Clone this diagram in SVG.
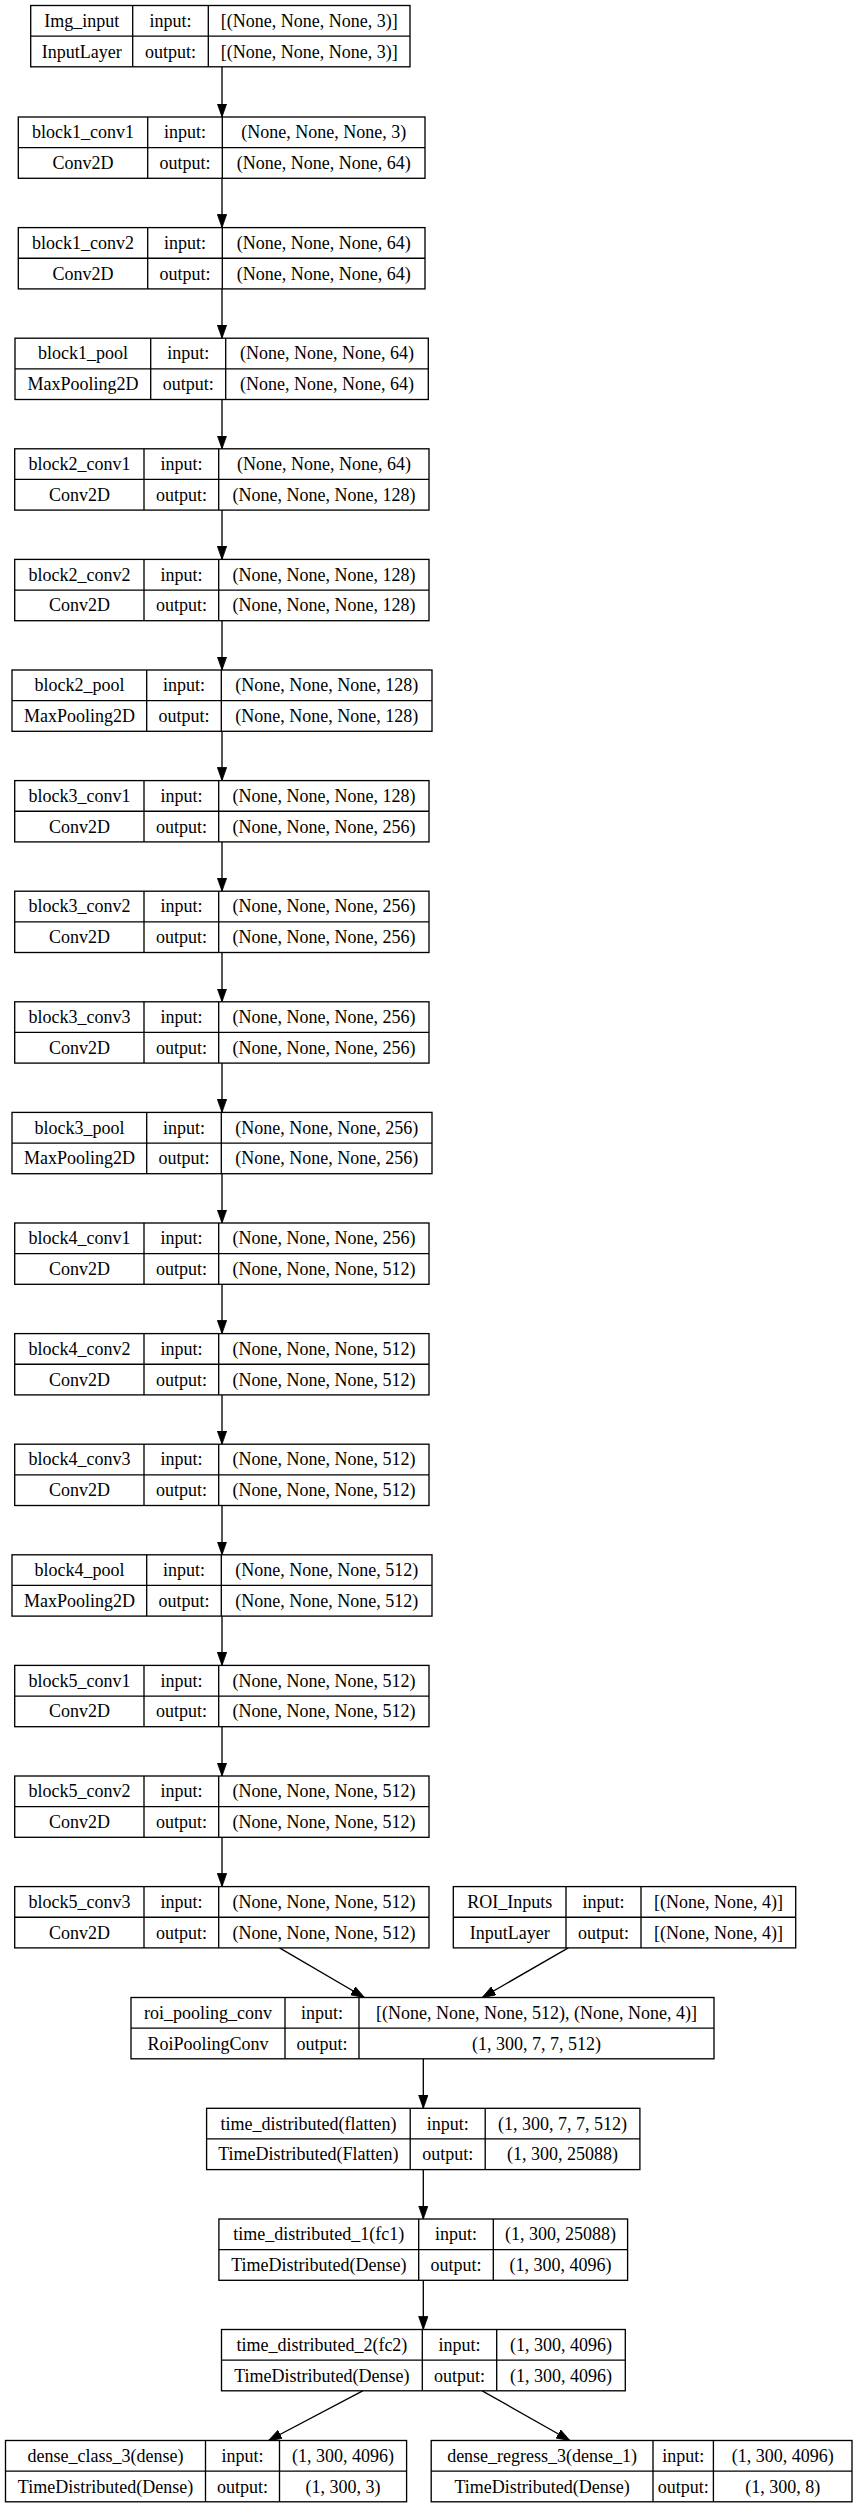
<svg xmlns="http://www.w3.org/2000/svg" width="859" height="2508" viewBox="0 0 859 2508">
<defs>
<style>
.box{fill:#fff;stroke:#000;stroke-width:1.33}
.grid{fill:none;stroke:#000;stroke-width:1.33}
text{font-family:"Liberation Serif","Times New Roman",serif;font-size:18px;fill:#000;text-anchor:middle}
.edge{fill:none;stroke:#000;stroke-width:1.33;marker-end:url(#ah)}
</style>
<marker id="ah" markerUnits="userSpaceOnUse" markerWidth="14" markerHeight="10" refX="13.3" refY="4.7" orient="auto" viewBox="0 0 14 10">
<path d="M0,0 L13.3,4.7 L0,9.4 z" fill="#000" stroke="#000" stroke-width="0.8"/>
</marker>
</defs>
<rect width="859" height="2508" fill="#fff"/>

<g id="connectors">
<line class="edge" x1="222" y1="66.8" x2="222" y2="117"/>
<line class="edge" x1="222" y1="178.3" x2="222" y2="227.6"/>
<line class="edge" x1="222" y1="288.9" x2="222" y2="338.2"/>
<line class="edge" x1="222" y1="399.5" x2="222" y2="448.8"/>
<line class="edge" x1="222" y1="510.1" x2="222" y2="559.4"/>
<line class="edge" x1="222" y1="620.7" x2="222" y2="670"/>
<line class="edge" x1="222" y1="731.3" x2="222" y2="780.6"/>
<line class="edge" x1="222" y1="841.9" x2="222" y2="891.2"/>
<line class="edge" x1="222" y1="952.5" x2="222" y2="1001.8"/>
<line class="edge" x1="222" y1="1063.1" x2="222" y2="1112.4"/>
<line class="edge" x1="222" y1="1173.7" x2="222" y2="1223"/>
<line class="edge" x1="222" y1="1284.3" x2="222" y2="1333.6"/>
<line class="edge" x1="222" y1="1394.9" x2="222" y2="1444.2"/>
<line class="edge" x1="222" y1="1505.5" x2="222" y2="1554.8"/>
<line class="edge" x1="222" y1="1616.1" x2="222" y2="1665.4"/>
<line class="edge" x1="222" y1="1726.7" x2="222" y2="1776"/>
<line class="edge" x1="222" y1="1837.3" x2="222" y2="1886.6"/>
<line class="edge" x1="279.5" y1="1947.9" x2="364.4" y2="1997.5"/>
<line class="edge" x1="568.3" y1="1947.9" x2="482.2" y2="1997.5"/>
<line class="edge" x1="423.3" y1="2058.8" x2="423.3" y2="2108.3"/>
<line class="edge" x1="423.3" y1="2169.6" x2="423.3" y2="2219"/>
<line class="edge" x1="423.3" y1="2280.3" x2="423.3" y2="2329.5"/>
<line class="edge" x1="362.7" y1="2390.8" x2="268.5" y2="2440.5"/>
<line class="edge" x1="482.2" y1="2390.8" x2="569.9" y2="2440.5"/>
</g>

<g id="Img_input" transform="translate(0,5.5)">
<rect class="box" x="30.7" y="0" width="379.3" height="61.3"/>
<path class="grid" d="M30.7,30.65H410M132.7,0V61.3M208.3,0V61.3"/>
<text x="81.7" y="21.3">Img_input</text><text x="170.5" y="21.3">input:</text><text x="309.2" y="21.3">[(None, None, None, 3)]</text>
<text x="81.7" y="52">InputLayer</text><text x="170.5" y="52">output:</text><text x="309.2" y="52">[(None, None, None, 3)]</text>
</g>

<g id="block1_conv1" transform="translate(0,117)">
<rect class="box" x="18.3" y="0" width="406.7" height="61.3"/>
<path class="grid" d="M18.3,30.65H425M147.7,0V61.3M222.3,0V61.3"/>
<text x="83" y="21.3">block1_conv1</text><text x="185" y="21.3">input:</text><text x="323.7" y="21.3">(None, None, None, 3)</text>
<text x="83" y="52">Conv2D</text><text x="185" y="52">output:</text><text x="323.7" y="52">(None, None, None, 64)</text>
</g>

<g id="block1_conv2" transform="translate(0,227.6)">
<rect class="box" x="18.3" y="0" width="406.7" height="61.3"/>
<path class="grid" d="M18.3,30.65H425M147.7,0V61.3M222.3,0V61.3"/>
<text x="83" y="21.3">block1_conv2</text><text x="185" y="21.3">input:</text><text x="323.7" y="21.3">(None, None, None, 64)</text>
<text x="83" y="52">Conv2D</text><text x="185" y="52">output:</text><text x="323.7" y="52">(None, None, None, 64)</text>
</g>

<g id="block1_pool" transform="translate(0,338.2)">
<rect class="box" x="15" y="0" width="413.3" height="61.3"/>
<path class="grid" d="M15,30.65H428.3M150.7,0V61.3M225.7,0V61.3"/>
<text x="82.9" y="21.3">block1_pool</text><text x="188.2" y="21.3">input:</text><text x="327" y="21.3">(None, None, None, 64)</text>
<text x="82.9" y="52">MaxPooling2D</text><text x="188.2" y="52">output:</text><text x="327" y="52">(None, None, None, 64)</text>
</g>

<g id="block2_conv1" transform="translate(0,448.8)">
<rect class="box" x="14.7" y="0" width="414.3" height="61.3"/>
<path class="grid" d="M14.7,30.65H429M144,0V61.3M218.7,0V61.3"/>
<text x="79.4" y="21.3">block2_conv1</text><text x="181.4" y="21.3">input:</text><text x="323.9" y="21.3">(None, None, None, 64)</text>
<text x="79.4" y="52">Conv2D</text><text x="181.4" y="52">output:</text><text x="323.9" y="52">(None, None, None, 128)</text>
</g>

<g id="block2_conv2" transform="translate(0,559.4)">
<rect class="box" x="14.7" y="0" width="414.3" height="61.3"/>
<path class="grid" d="M14.7,30.65H429M144,0V61.3M218.7,0V61.3"/>
<text x="79.4" y="21.3">block2_conv2</text><text x="181.4" y="21.3">input:</text><text x="323.9" y="21.3">(None, None, None, 128)</text>
<text x="79.4" y="52">Conv2D</text><text x="181.4" y="52">output:</text><text x="323.9" y="52">(None, None, None, 128)</text>
</g>

<g id="block2_pool" transform="translate(0,670)">
<rect class="box" x="12" y="0" width="420" height="61.3"/>
<path class="grid" d="M12,30.65H432M146.7,0V61.3M221.3,0V61.3"/>
<text x="79.4" y="21.3">block2_pool</text><text x="184" y="21.3">input:</text><text x="326.7" y="21.3">(None, None, None, 128)</text>
<text x="79.4" y="52">MaxPooling2D</text><text x="184" y="52">output:</text><text x="326.7" y="52">(None, None, None, 128)</text>
</g>

<g id="block3_conv1" transform="translate(0,780.6)">
<rect class="box" x="14.7" y="0" width="414.3" height="61.3"/>
<path class="grid" d="M14.7,30.65H429M144,0V61.3M218.7,0V61.3"/>
<text x="79.4" y="21.3">block3_conv1</text><text x="181.4" y="21.3">input:</text><text x="323.9" y="21.3">(None, None, None, 128)</text>
<text x="79.4" y="52">Conv2D</text><text x="181.4" y="52">output:</text><text x="323.9" y="52">(None, None, None, 256)</text>
</g>

<g id="block3_conv2" transform="translate(0,891.2)">
<rect class="box" x="14.7" y="0" width="414.3" height="61.3"/>
<path class="grid" d="M14.7,30.65H429M144,0V61.3M218.7,0V61.3"/>
<text x="79.4" y="21.3">block3_conv2</text><text x="181.4" y="21.3">input:</text><text x="323.9" y="21.3">(None, None, None, 256)</text>
<text x="79.4" y="52">Conv2D</text><text x="181.4" y="52">output:</text><text x="323.9" y="52">(None, None, None, 256)</text>
</g>

<g id="block3_conv3" transform="translate(0,1001.8)">
<rect class="box" x="14.7" y="0" width="414.3" height="61.3"/>
<path class="grid" d="M14.7,30.65H429M144,0V61.3M218.7,0V61.3"/>
<text x="79.4" y="21.3">block3_conv3</text><text x="181.4" y="21.3">input:</text><text x="323.9" y="21.3">(None, None, None, 256)</text>
<text x="79.4" y="52">Conv2D</text><text x="181.4" y="52">output:</text><text x="323.9" y="52">(None, None, None, 256)</text>
</g>

<g id="block3_pool" transform="translate(0,1112.4)">
<rect class="box" x="12" y="0" width="420" height="61.3"/>
<path class="grid" d="M12,30.65H432M146.7,0V61.3M221.3,0V61.3"/>
<text x="79.4" y="21.3">block3_pool</text><text x="184" y="21.3">input:</text><text x="326.7" y="21.3">(None, None, None, 256)</text>
<text x="79.4" y="52">MaxPooling2D</text><text x="184" y="52">output:</text><text x="326.7" y="52">(None, None, None, 256)</text>
</g>

<g id="block4_conv1" transform="translate(0,1223)">
<rect class="box" x="14.7" y="0" width="414.3" height="61.3"/>
<path class="grid" d="M14.7,30.65H429M144,0V61.3M218.7,0V61.3"/>
<text x="79.4" y="21.3">block4_conv1</text><text x="181.4" y="21.3">input:</text><text x="323.9" y="21.3">(None, None, None, 256)</text>
<text x="79.4" y="52">Conv2D</text><text x="181.4" y="52">output:</text><text x="323.9" y="52">(None, None, None, 512)</text>
</g>

<g id="block4_conv2" transform="translate(0,1333.6)">
<rect class="box" x="14.7" y="0" width="414.3" height="61.3"/>
<path class="grid" d="M14.7,30.65H429M144,0V61.3M218.7,0V61.3"/>
<text x="79.4" y="21.3">block4_conv2</text><text x="181.4" y="21.3">input:</text><text x="323.9" y="21.3">(None, None, None, 512)</text>
<text x="79.4" y="52">Conv2D</text><text x="181.4" y="52">output:</text><text x="323.9" y="52">(None, None, None, 512)</text>
</g>

<g id="block4_conv3" transform="translate(0,1444.2)">
<rect class="box" x="14.7" y="0" width="414.3" height="61.3"/>
<path class="grid" d="M14.7,30.65H429M144,0V61.3M218.7,0V61.3"/>
<text x="79.4" y="21.3">block4_conv3</text><text x="181.4" y="21.3">input:</text><text x="323.9" y="21.3">(None, None, None, 512)</text>
<text x="79.4" y="52">Conv2D</text><text x="181.4" y="52">output:</text><text x="323.9" y="52">(None, None, None, 512)</text>
</g>

<g id="block4_pool" transform="translate(0,1554.8)">
<rect class="box" x="12" y="0" width="420" height="61.3"/>
<path class="grid" d="M12,30.65H432M146.7,0V61.3M221.3,0V61.3"/>
<text x="79.4" y="21.3">block4_pool</text><text x="184" y="21.3">input:</text><text x="326.7" y="21.3">(None, None, None, 512)</text>
<text x="79.4" y="52">MaxPooling2D</text><text x="184" y="52">output:</text><text x="326.7" y="52">(None, None, None, 512)</text>
</g>

<g id="block5_conv1" transform="translate(0,1665.4)">
<rect class="box" x="14.7" y="0" width="414.3" height="61.3"/>
<path class="grid" d="M14.7,30.65H429M144,0V61.3M218.7,0V61.3"/>
<text x="79.4" y="21.3">block5_conv1</text><text x="181.4" y="21.3">input:</text><text x="323.9" y="21.3">(None, None, None, 512)</text>
<text x="79.4" y="52">Conv2D</text><text x="181.4" y="52">output:</text><text x="323.9" y="52">(None, None, None, 512)</text>
</g>

<g id="block5_conv2" transform="translate(0,1776)">
<rect class="box" x="14.7" y="0" width="414.3" height="61.3"/>
<path class="grid" d="M14.7,30.65H429M144,0V61.3M218.7,0V61.3"/>
<text x="79.4" y="21.3">block5_conv2</text><text x="181.4" y="21.3">input:</text><text x="323.9" y="21.3">(None, None, None, 512)</text>
<text x="79.4" y="52">Conv2D</text><text x="181.4" y="52">output:</text><text x="323.9" y="52">(None, None, None, 512)</text>
</g>

<g id="block5_conv3" transform="translate(0,1886.6)">
<rect class="box" x="14.7" y="0" width="414.3" height="61.3"/>
<path class="grid" d="M14.7,30.65H429M144,0V61.3M218.7,0V61.3"/>
<text x="79.4" y="21.3">block5_conv3</text><text x="181.4" y="21.3">input:</text><text x="323.9" y="21.3">(None, None, None, 512)</text>
<text x="79.4" y="52">Conv2D</text><text x="181.4" y="52">output:</text><text x="323.9" y="52">(None, None, None, 512)</text>
</g>

<g id="ROI_Inputs" transform="translate(0,1886.6)">
<rect class="box" x="453.3" y="0" width="342.4" height="61.3"/>
<path class="grid" d="M453.3,30.65H795.7M566,0V61.3M641,0V61.3"/>
<text x="509.7" y="21.3">ROI_Inputs</text><text x="603.5" y="21.3">input:</text><text x="718.4" y="21.3">[(None, None, 4)]</text>
<text x="509.7" y="52">InputLayer</text><text x="603.5" y="52">output:</text><text x="718.4" y="52">[(None, None, 4)]</text>
</g>

<g id="roi_pooling_conv" transform="translate(0,1997.5)">
<rect class="box" x="131" y="0" width="583" height="61.3"/>
<path class="grid" d="M131,30.65H714M285,0V61.3M359,0V61.3"/>
<text x="208" y="21.3">roi_pooling_conv</text><text x="322" y="21.3">input:</text><text x="536.5" y="21.3">[(None, None, None, 512), (None, None, 4)]</text>
<text x="208" y="52">RoiPoolingConv</text><text x="322" y="52">output:</text><text x="536.5" y="52">(1, 300, 7, 7, 512)</text>
</g>

<g id="time_distributed" transform="translate(0,2108.3)">
<rect class="box" x="206.6" y="0" width="433.3" height="61.3"/>
<path class="grid" d="M206.6,30.65H639.9M410.2,0V61.3M485.2,0V61.3"/>
<text x="308.4" y="21.3">time_distributed(flatten)</text><text x="447.7" y="21.3">input:</text><text x="562.6" y="21.3">(1, 300, 7, 7, 512)</text>
<text x="308.4" y="52">TimeDistributed(Flatten)</text><text x="447.7" y="52">output:</text><text x="562.6" y="52">(1, 300, 25088)</text>
</g>

<g id="time_distributed_1" transform="translate(0,2219)">
<rect class="box" x="218.9" y="0" width="408.7" height="61.3"/>
<path class="grid" d="M218.9,30.65H627.6M418.7,0V61.3M493.3,0V61.3"/>
<text x="318.8" y="21.3">time_distributed_1(fc1)</text><text x="456" y="21.3">input:</text><text x="560.5" y="21.3">(1, 300, 25088)</text>
<text x="318.8" y="52">TimeDistributed(Dense)</text><text x="456" y="52">output:</text><text x="560.5" y="52">(1, 300, 4096)</text>
</g>

<g id="time_distributed_2" transform="translate(0,2329.5)">
<rect class="box" x="221.5" y="0" width="403.8" height="61.3"/>
<path class="grid" d="M221.5,30.65H625.3M422.3,0V61.3M496.7,0V61.3"/>
<text x="321.9" y="21.3">time_distributed_2(fc2)</text><text x="459.5" y="21.3">input:</text><text x="561" y="21.3">(1, 300, 4096)</text>
<text x="321.9" y="52">TimeDistributed(Dense)</text><text x="459.5" y="52">output:</text><text x="561" y="52">(1, 300, 4096)</text>
</g>

<g id="dense_class_3" transform="translate(0,2440.5)">
<rect class="box" x="5.5" y="0" width="401.1" height="61.3"/>
<path class="grid" d="M5.5,30.65H406.6M205.5,0V61.3M279.5,0V61.3"/>
<text x="105.5" y="21.3">dense_class_3(dense)</text><text x="242.5" y="21.3">input:</text><text x="343" y="21.3">(1, 300, 4096)</text>
<text x="105.5" y="52">TimeDistributed(Dense)</text><text x="242.5" y="52">output:</text><text x="343" y="52">(1, 300, 3)</text>
</g>

<g id="dense_regress_3" transform="translate(0,2440.5)">
<rect class="box" x="431.2" y="0" width="420.8" height="61.3"/>
<path class="grid" d="M431.2,30.65H852M653,0V61.3M713.4,0V61.3"/>
<text x="542.1" y="21.3">dense_regress_3(dense_1)</text><text x="683.2" y="21.3">input:</text><text x="782.7" y="21.3">(1, 300, 4096)</text>
<text x="542.1" y="52">TimeDistributed(Dense)</text><text x="683.2" y="52">output:</text><text x="782.7" y="52">(1, 300, 8)</text>
</g>
</svg>
